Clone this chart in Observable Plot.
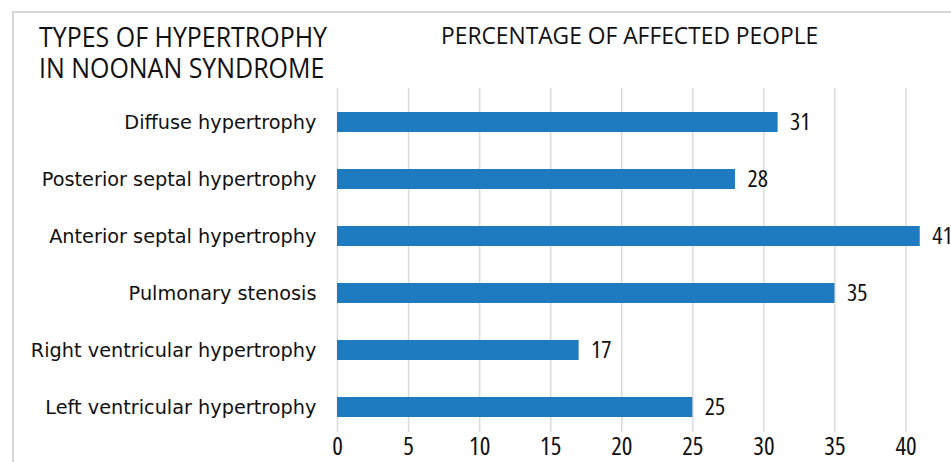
<!DOCTYPE html>
<html>
<head>
<meta charset="utf-8">
<script src="https://cdn.jsdelivr.net/npm/d3@7"></script>
<script src="https://cdn.jsdelivr.net/npm/@observablehq/plot@0.6"></script>
<style>
  html, body { margin: 0; padding: 0; background: #fff; }
  #wrap { position: relative; width: 951px; height: 462px; overflow: hidden; }
  #frame { position: absolute; left: 12px; top: 11px; width: 1000px; height: 1000px;
           border-top: 2px solid #d6d6d6; border-left: 2px solid #d6d6d6; }
  .ttl { font-family: "Open Sans", sans-serif; color: #111; position: absolute; white-space: nowrap; }
  .t1 { left: 39px; font-size: 28px; line-height: 31px; height: 31px;
        transform: scaleX(0.891); transform-origin: 0 50%; }
  #t1a { top: 20.5px; }
  #t1b { top: 51.5px; }
  #t2 { left: 441px; top: 20.5px; font-size: 22.8px; line-height: 30px; }
  #chart { position: absolute; left: 0; top: 0; }
</style>
</head>
<body>
<div id="wrap">
  <div id="frame"></div>
  <div id="chart"></div>
  <div id="t1a" class="ttl t1">TYPES OF HYPERTROPHY</div>
  <div id="t1b" class="ttl t1">IN NOONAN SYNDROME</div>
  <div id="t2" class="ttl">PERCENTAGE OF AFFECTED PEOPLE</div>
</div>
<script>
const categories = [
  "Diffuse hypertrophy",
  "Posterior septal hypertrophy",
  "Anterior septal hypertrophy",
  "Pulmonary stenosis",
  "Right ventricular hypertrophy",
  "Left ventricular hypertrophy"
];
const values = [31, 28, 41, 35, 17, 25];
const xTicks = [0, 5, 10, 15, 20, 25, 30, 35, 40];

const data = categories.map((c, i) => ({category: c, value: values[i]}));
const condFont = "Open Sans, sans-serif";

const chart = Plot.plot({
  width: 951,
  height: 462,
  marginLeft: 337,
  marginRight: 0,
  marginTop: 88,
  marginBottom: 30,
  style: {background: "transparent", overflow: "hidden"},
  x: {domain: [0, 43.2], label: null},
  y: {domain: categories, paddingInner: 0.653, paddingOuter: 0.31, align: 0.6, label: null},
  marks: [
    Plot.gridX(xTicks, {stroke: "#dadada", strokeOpacity: 1, strokeWidth: 1.5}),
    Plot.barX(data, {x: "value", y: "category", fill: "#1f7bc0"}),
    Plot.text(data, {x: "value", y: "category", text: d => String(d.value), textAnchor: "start",
      dx: 12, fontSize: 24, fontFamily: condFont, fill: "#111"}),
    Plot.axisX(xTicks, {tickSize: 0, tickPadding: 5, fontSize: 25, fontFamily: condFont, fill: "#111", label: null}),
    Plot.axisY({tickSize: 0, tickPadding: 21, fontSize: 19.3, fontFamily: "DejaVu Sans, sans-serif", fill: "#111", label: null})
  ]
});
chart.querySelectorAll("g[aria-label='x-axis tick label'], g[aria-label='text']").forEach(el => el.style.fontStretch = "condensed");
document.getElementById("chart").appendChild(chart);
</script>
</body>
</html>
